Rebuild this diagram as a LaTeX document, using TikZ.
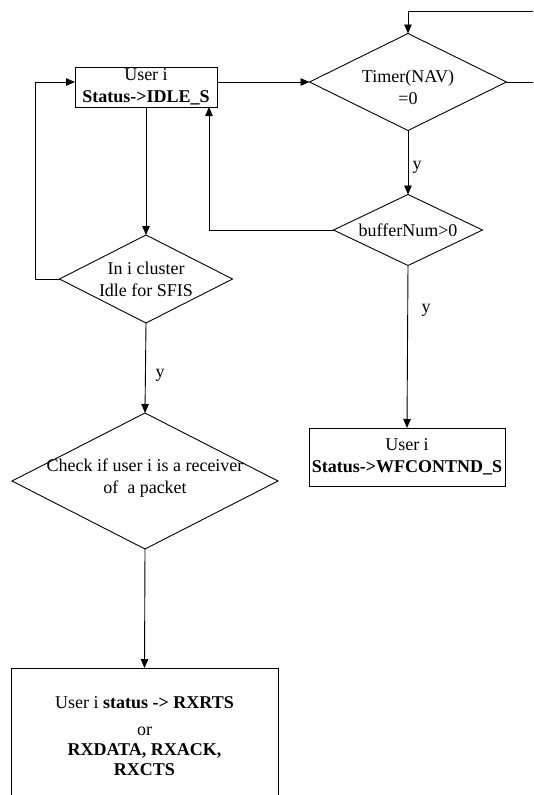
\documentclass[tikz,border=0pt]{standalone}
\usepackage{fontspec}
\setmainfont{Liberation Serif}
\usetikzlibrary{shapes.geometric,arrows.meta}
\begin{document}
\begin{tikzpicture}[x=1pt,y=-1pt,
  every node/.style={font=\fontsize{18}{22}\selectfont},
  flow/.style={line width=0.9pt},
  arr/.style={flow,-{Triangle[length=9pt,width=7.5pt]}},
  statebox/.style={draw,line width=1pt,rectangle,align=center,inner xsep=2pt,inner ysep=0pt,outer sep=0pt},
  decision/.style={draw,line width=0.9pt,diamond,inner sep=0pt,outer sep=0pt},
  dtext/.style={align=center,inner sep=0pt,font=\fontsize{18}{22}\selectfont},
  ylab/.style={inner sep=0pt}]
\fill[white] (0,0) rectangle (533,795);
\useasboundingbox (0,0) rectangle (533,795);
\clip (0,0) rectangle (533,795);

% states and decisions
\node[statebox,minimum width=142pt,minimum height=40pt] (idle) at (146,87)
  {User i\\\textbf{Status->IDLE\_S}};
\node[decision,minimum width=197pt,minimum height=97pt,
  label={[dtext,yshift=-5pt]center:{Timer(NAV)\\=0}}] (timer) at (408,82) {};
\node[decision,minimum width=149pt,minimum height=71pt,
  label={[dtext]center:{bufferNum>0}}] (buf) at (408,230) {};
\node[statebox,minimum width=196pt,minimum height=58pt] (wf) at (407,457)
  {User i\\\textbf{Status->WFCONTND\_S}};
\node[decision,minimum width=173pt,minimum height=88pt,
  label={[dtext]center:{In i cluster\\Idle for SFIS}}] (clus) at (146,279) {};
\node[decision,minimum width=266pt,minimum height=136pt,
  label={[dtext,yshift=3pt]center:{Check if user i is a receiver\\of\enspace a packet}}] (chk) at (145,481) {};
\node[statebox,minimum width=267pt,minimum height=136pt,
  font=\fontsize{18}{20}\selectfont] (rx) at (144.5,736)
  {User i \textbf{status -> RXRTS}\\[7pt]or\\\textbf{RXDATA, RXACK,}\\\textbf{RXCTS}};

% branch labels
\node[ylab] (y1) at (417,167) {y};
\node[ylab] (y2) at (426,310) {y};
\node[ylab] (y3) at (160,375) {y};

% free ends of the loops
\coordinate (topR) at (533,11);
\coordinate (sideR) at (533,82);
\coordinate (loopL) at (35,0);
\coordinate (loopB) at (209,0);

% connectors
\draw[arr] (topR) -| (timer.north);
\draw[flow] (timer.east) -- (sideR);
\draw[arr] (timer.west -| idle.east) -- (timer.west);
\draw[arr] (timer.south) -- (buf.north);
\draw[arr] (buf.west) -| (loopB |- idle.south);
\draw[arr] (buf.south) -- (wf.north);
\draw[arr] (idle.south) -- (clus.north);
\draw[arr] (clus.west) -- (clus.west -| loopL) |- (timer.west -| idle.west);
\draw[arr] (clus.south) -- (chk.north);
\draw[arr] (chk.south) -- (rx.north);
\end{tikzpicture}
\end{document}
